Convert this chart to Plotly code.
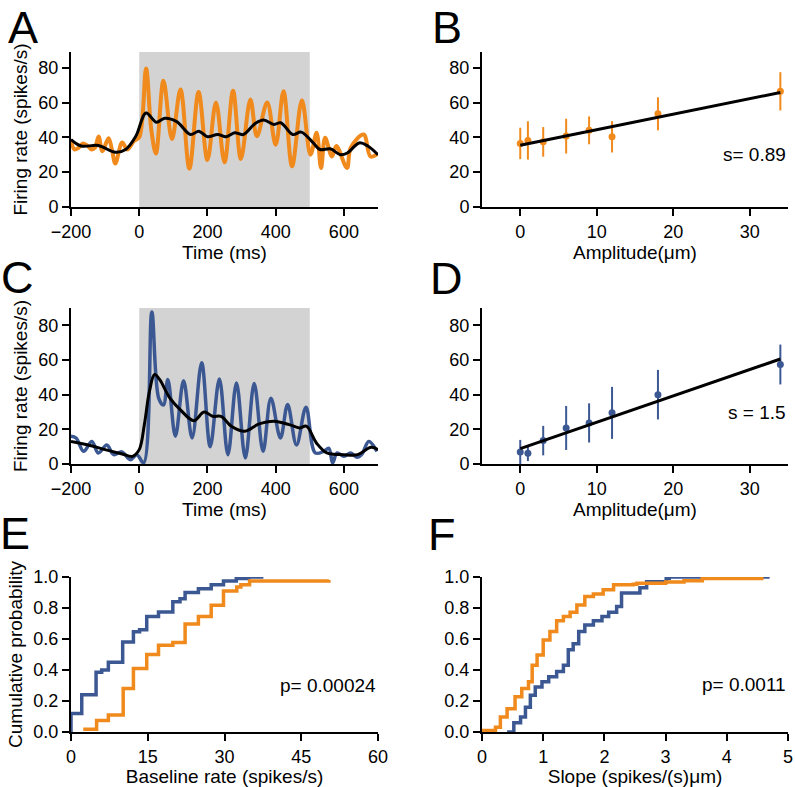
import plotly.graph_objects as go

ORANGE = "#F08A1C"
BLUE = "#3C5893"
FONT = "Liberation Sans, Arial, Helvetica, sans-serif"

# ---------------- Panel A (orange PSTH) ----------------
a_t = [-200, -190, -178, -165, -150, -140, -130, -119, -108, -90, -80, -70, -50, -35, -15, 0,
       20, 35, 49, 71, 96, 121, 147, 174, 200, 225, 250, 275, 298, 326, 345, 375, 400, 423, 448,
       477, 502, 520, 533, 545, 565, 578, 609, 620, 658, 678, 700]
a_rate = [38.7, 33, 34, 36.5, 35, 33, 34, 40.5, 32, 39.5, 33, 25, 37, 33, 38, 40,
          79.5, 45, 30.7, 72.5, 39, 67.5, 22, 66, 27, 60, 25.7, 66.7, 27.6, 61.7, 40.6, 60, 35.7, 66.5, 23.4,
          61.3, 30, 42.6, 22.4, 39.7, 29, 35, 22.4, 34, 41.6, 29, 30.7]
a_smooth_t = [-200, -170, -120, -70, -40, -10, 20, 50, 75, 110, 150, 175, 200, 230, 255, 280, 305,
              340, 365, 395, 415, 450, 475, 510, 530, 560, 590, 610, 645, 670, 700]
a_smooth = [38.7, 35, 35.3, 31.4, 33, 40.6, 54, 48.7, 51, 49, 41.6, 43.5, 40.3, 41.6, 40.3, 42.6, 41.6,
            48, 50, 47.4, 48.4, 41.6, 43, 36.8, 33, 33.4, 30, 31, 36.8, 35, 30]

# ---------------- Panel C (blue PSTH) ----------------
c_t = [-200, -185, -163, -139, -120, -95, -75, -51, -26, -7, 13, 37, 57, 71, 84, 106, 130, 155, 183,
       208, 235, 260, 285, 311, 337, 363, 386, 414, 435, 461, 489, 516, 541, 556, 567, 580, 600, 620,
       638, 653, 673, 697]
c_rate = [16, 15, 7.3, 13, 6.4, 11, 5.4, 7, 2.5, 5.4, 0.6, 87.7, 38, 34, 48.7, 16, 48, 15, 58.4,
          10, 49, 5.4, 46.8, 3.5, 46.4, 7.3, 38, 15, 34.3, 11, 32.8, 6.4, 7.3, 9, 0.6, 6.4, 4.4, 6.4,
          3.9, 5.8, 13, 7.3]
c_smooth_t = [-200, -150, -100, -50, -20, 0, 15, 30, 45, 60, 90, 120, 160, 190, 215, 240, 270, 310,
              350, 395, 440, 470, 490, 520, 550, 600, 640, 680, 700]
c_smooth = [13, 11, 8.3, 5.8, 4.4, 8.3, 22.7, 42, 51.6, 48.7, 38, 31.4, 25, 30, 27.5, 27.5, 21.8, 18.9,
            23, 24.7, 22.7, 20.8, 21.8, 12, 6.4, 5.4, 5.4, 9.6, 8.3]

stim_on, stim_off = 0, 500

# ---------------- Panels B and D (tuning) ----------------
amplitude = [0, 1, 3, 6, 9, 12, 18, 34]
b_rate = [36.5, 38.2, 37.4, 40.7, 44, 40.3, 53.5, 66.4]
b_err = [9, 11, 8.5, 10, 8, 9, 9.5, 11]
b_fit = (35.5, 0.89)   # intercept, slope
d_rate = [6.9, 6.2, 13.5, 20.8, 23.7, 29.5, 40, 57.4]
d_err = [7, 4.5, 8.5, 12.7, 11.3, 15, 14.3, 11.5]
d_fit = (8.9, 1.52)

# ---------------- Panel E (baseline CDF) ----------------
e_blue_x = [0, 0, 2.1, 4.9, 6.0, 7.3, 10.1, 12.2, 13.4, 14.8, 17.1, 19.9, 21.3, 22.3, 24.9, 27.4, 29.8, 32.3, 34.7, 37.6]
e_blue_y = [0, 0.12, 0.24, 0.385, 0.40, 0.45, 0.58, 0.647, 0.66, 0.745, 0.775, 0.84, 0.86, 0.9, 0.925, 0.95, 0.975, 0.99, 1.0, 1.0]
e_orange_x = [2.4, 5.0, 7.3, 10.2, 12.2, 14.8, 17.1, 19.9, 22.3, 24.9, 27.4, 29.8, 32.4, 33.2, 34.9, 50.4]
e_orange_y = [0.017, 0.075, 0.11, 0.28, 0.41, 0.50, 0.56, 0.578, 0.696, 0.745, 0.818, 0.91, 0.935, 0.95, 0.975, 0.98]

# ---------------- Panel F (slope CDF) ----------------
f_blue_x = [0.41, 0.52, 0.63, 0.71, 0.79, 0.87, 0.98, 1.09, 1.22, 1.33, 1.41, 1.49, 1.58, 1.68, 1.82, 1.96,
            2.07, 2.2, 2.28, 2.58, 2.69, 3.01, 3.06, 4.7]
f_blue_y = [0.0, 0.06, 0.097, 0.16, 0.237, 0.29, 0.324, 0.356, 0.39, 0.43, 0.53, 0.57, 0.648, 0.69, 0.717,
            0.745, 0.773, 0.81, 0.896, 0.93, 0.97, 0.99, 1.0, 1.0]
f_orange_x = [0.0, 0.22, 0.3, 0.41, 0.54, 0.65, 0.76, 0.82, 0.9, 1.0, 1.11, 1.22, 1.33, 1.44, 1.55, 1.68,
              1.82, 1.98, 2.15, 2.47, 2.53, 3.0, 3.3, 3.6, 4.6]
f_orange_y = [0.01, 0.03, 0.097, 0.15, 0.227, 0.28, 0.324, 0.43, 0.497, 0.594, 0.648, 0.717, 0.745, 0.773,
              0.82, 0.875, 0.89, 0.918, 0.95, 0.954, 0.96, 0.967, 0.976, 0.99, 0.99]

W, H = 795, 787


def px(x):
    return x / W


def py(y):
    return 1 - y / H


fig = go.Figure()

# A
fig.add_trace(go.Scatter(x=a_t, y=a_rate, mode="lines", line=dict(color=ORANGE, width=4, shape="spline", smoothing=1.0),
                         xaxis="x", yaxis="y"))
fig.add_trace(go.Scatter(x=a_smooth_t, y=a_smooth, mode="lines", line=dict(color="black", width=3, shape="spline", smoothing=1.0),
                         xaxis="x", yaxis="y"))
# C
fig.add_trace(go.Scatter(x=c_t, y=c_rate, mode="lines", line=dict(color=BLUE, width=3.5, shape="spline", smoothing=1.0),
                         xaxis="x3", yaxis="y3"))
fig.add_trace(go.Scatter(x=c_smooth_t, y=c_smooth, mode="lines", line=dict(color="black", width=3, shape="spline", smoothing=1.0),
                         xaxis="x3", yaxis="y3"))

# B
fig.add_trace(go.Scatter(x=amplitude, y=b_rate, mode="markers",
                         marker=dict(color=ORANGE, size=7),
                         error_y=dict(type="data", array=b_err, color=ORANGE, thickness=2, width=0),
                         xaxis="x2", yaxis="y2", cliponaxis=False))
fig.add_trace(go.Scatter(x=[amplitude[0], amplitude[-1]],
                         y=[b_fit[0] + b_fit[1] * amplitude[0], b_fit[0] + b_fit[1] * amplitude[-1]],
                         mode="lines", line=dict(color="black", width=3), xaxis="x2", yaxis="y2"))
# D
fig.add_trace(go.Scatter(x=amplitude, y=d_rate, mode="markers",
                         marker=dict(color=BLUE, size=7),
                         error_y=dict(type="data", array=d_err, color=BLUE, thickness=2, width=0),
                         xaxis="x4", yaxis="y4", cliponaxis=True))
fig.add_trace(go.Scatter(x=[amplitude[0], amplitude[-1]],
                         y=[d_fit[0] + d_fit[1] * amplitude[0], d_fit[0] + d_fit[1] * amplitude[-1]],
                         mode="lines", line=dict(color="black", width=3), xaxis="x4", yaxis="y4"))

# E
fig.add_trace(go.Scatter(x=e_blue_x, y=e_blue_y, mode="lines", line=dict(color=BLUE, width=3.5, shape="hv"),
                         xaxis="x5", yaxis="y5", cliponaxis=False))
fig.add_trace(go.Scatter(x=e_orange_x, y=e_orange_y, mode="lines", line=dict(color=ORANGE, width=3.5, shape="hv"),
                         xaxis="x5", yaxis="y5", cliponaxis=False))
# F
fig.add_trace(go.Scatter(x=f_blue_x, y=f_blue_y, mode="lines", line=dict(color=BLUE, width=3.5, shape="hv"),
                         xaxis="x6", yaxis="y6", cliponaxis=False))
fig.add_trace(go.Scatter(x=f_orange_x, y=f_orange_y, mode="lines", line=dict(color=ORANGE, width=3.5, shape="hv"),
                         xaxis="x6", yaxis="y6", cliponaxis=False))

axis_style = dict(showline=True, linecolor="black", linewidth=2, ticks="outside", ticklen=7, tickwidth=2,
                  tickcolor="black", showgrid=False, zeroline=False, tickfont=dict(size=18, color="black"),
                  title_font=dict(size=19, color="black"), fixedrange=True, automargin=False)

left_dom = [px(71), px(378)]
right_dom = [px(482), px(788)]
row1 = [py(207), py(52)]
row2 = [py(464), py(308)]
row3 = [py(732), py(577)]

layout = dict(
    width=W, height=H, margin=dict(l=0, r=0, t=0, b=0, autoexpand=False),
    paper_bgcolor="white", plot_bgcolor="white", showlegend=False,
    font=dict(family=FONT, color="black"),
    xaxis=dict(domain=left_dom, anchor="y", range=[-200, 700], tickvals=[-200, 0, 200, 400, 600],
               title=dict(text="Time (ms)", standoff=2), **axis_style),
    yaxis=dict(domain=row1, anchor="x", range=[0, 89], tickvals=[0, 20, 40, 60, 80],
               title=dict(text="Firing rate (spikes/s)", standoff=6), **axis_style),
    xaxis2=dict(domain=right_dom, anchor="y2", range=[-5, 35], tickvals=[0, 10, 20, 30],
                title=dict(text="Amplitude(μm)", standoff=2), **axis_style),
    yaxis2=dict(domain=row1, anchor="x2", range=[0, 89], tickvals=[0, 20, 40, 60, 80], **axis_style),
    xaxis3=dict(domain=left_dom, anchor="y3", range=[-200, 700], tickvals=[-200, 0, 200, 400, 600],
                title=dict(text="Time (ms)", standoff=2), **axis_style),
    yaxis3=dict(domain=row2, anchor="x3", range=[0, 90], tickvals=[0, 20, 40, 60, 80],
                title=dict(text="Firing rate (spikes/s)", standoff=6), **axis_style),
    xaxis4=dict(domain=right_dom, anchor="y4", range=[-5, 35], tickvals=[0, 10, 20, 30],
                title=dict(text="Amplitude(μm)", standoff=2), **axis_style),
    yaxis4=dict(domain=row2, anchor="x4", range=[0, 90], tickvals=[0, 20, 40, 60, 80], **axis_style),
    xaxis5=dict(domain=left_dom, anchor="y5", range=[0, 60], tickvals=[0, 15, 30, 45, 60],
                title=dict(text="Baseline rate (spikes/s)", standoff=2), **axis_style),
    yaxis5=dict(domain=row3, anchor="x5", range=[0, 1.0], tickvals=[0, 0.2, 0.4, 0.6, 0.8, 1.0], tickformat=".1f",
                title=dict(text="Cumulative probability", standoff=6), **axis_style),
    xaxis6=dict(domain=right_dom, anchor="y6", range=[0, 5], tickvals=[0, 1, 2, 3, 4, 5],
                title=dict(text="Slope (spikes/(s)μm)", standoff=2), **axis_style),
    yaxis6=dict(domain=row3, anchor="x6", range=[0, 1.0], tickvals=[0, 0.2, 0.4, 0.6, 0.8, 1.0], tickformat=".1f",
                **axis_style),
)

shapes = []
for xr, yr, top in [("x", "y", 89), ("x3", "y3", 90)]:
    shapes.append(dict(type="rect", xref=xr, yref=yr, x0=stim_on, x1=stim_off, y0=0, y1=top,
                       fillcolor="#D3D3D3", line=dict(width=0), layer="below"))
layout["shapes"] = shapes

ann = []
for letter, x, y in [("A", 6, 0), ("B", 429.5, 0), ("C", -1, 250), ("D", 427.5, 251), ("E", -2.5, 506), ("F", 425.5, 507)]:
    ann.append(dict(text=letter, xref="paper", yref="paper", x=px(x), y=py(y), xanchor="left", yanchor="top",
                    showarrow=False, font=dict(size=45, color="black", family=FONT)))
ann.append(dict(text="s= 0.89", xref="x2", yref="y2", x=35, y=30, xanchor="right", yanchor="middle",
                showarrow=False, font=dict(size=19, color="black")))
ann.append(dict(text="s = 1.5", xref="x4", yref="y4", x=35, y=29.5, xanchor="right", yanchor="middle",
                showarrow=False, font=dict(size=19, color="black")))
ann.append(dict(text="p= 0.00024", xref="x5", yref="y5", x=60, y=0.30, xanchor="right", yanchor="middle",
                showarrow=False, font=dict(size=19, color="black")))
ann.append(dict(text="p= 0.0011", xref="x6", yref="y6", x=5, y=0.305, xanchor="right", yanchor="middle",
                showarrow=False, font=dict(size=19, color="black")))
layout["annotations"] = ann

fig.update_layout(**layout)
# remove the page's default 8px body margin so the figure fills the window exactly
fig.write_html("out.html", config={"displayModeBar": False},
               post_script="document.body.style.margin='0px';document.body.style.overflow='hidden';")
